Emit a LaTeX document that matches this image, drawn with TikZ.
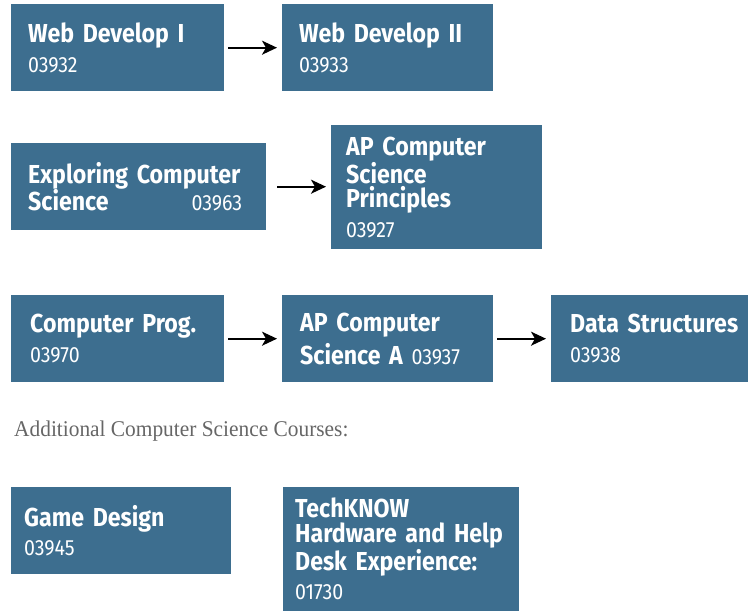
\documentclass[tikz,border=0pt]{standalone}
\usepackage{fontspec}
\setmainfont{Fira Sans}
\newfontfamily\titlefont{Fira Sans}[FakeStretch=0.89]
\newfontfamily\notefont{Liberation Serif}[FakeStretch=0.95]
\usetikzlibrary{arrows.meta, positioning}
\definecolor{csblue}{HTML}{3D6E8F}
\definecolor{notegray}{HTML}{666666}

\tikzset{
  course/.style={rectangle, fill=csblue, text=white, anchor=north west,
    align=left, inner xsep=17pt, inner ysep=0pt, font=\titlefont\bfseries\fontsize{26}{24.5}\selectfont},
  arr/.style={-{Stealth[length=15pt, width=14pt, inset=4pt]}, line width=1.7pt, black}
}
\newcommand{\ccodefont}{\mdseries\fontsize{22}{22}\selectfont}
\newcommand{\ccode}[1]{\\[5pt]{\ccodefont #1}}

\begin{document}
\begin{tikzpicture}[x=1pt, y=-1pt]
  \useasboundingbox (0,0) rectangle (748,612);

  % Row 1: web development
  \node[course, text width=179pt, minimum height=87pt] (web1) at (11,4) {Web Develop I\ccode{03932}};
  \node[course, text width=177pt, minimum height=87pt] (web2) at (282,4) {Web Develop II\ccode{03933}};
  \draw[arr, shorten <=4pt, shorten >=5pt] (web1) -- (web2);

  % Row 2: exploring / principles
  \node[course, text width=221pt, minimum height=87pt] (expl) at (11,143)
    {Exploring Computer\\Science\hfill{\ccodefont 03963}\hspace*{7pt}};
  \node[course, inner xsep=15pt, text width=181pt, minimum height=124pt] (apcsp) at (331,125)
    {AP Computer\\Science\\Principles\ccode{03927}};
  \draw[arr, shorten <=11pt, shorten >=5pt] (expl) -- (apcsp.west |- expl.east);

  % Row 3: programming track
  \node[course, inner xsep=19pt, text width=175pt, minimum height=87pt] (prog) at (11,295) {Computer Prog.\ccode{03970}};
  \node[course, inner xsep=18pt, text width=175pt, minimum height=87pt] (apcsa) at (282,295)
    {AP Computer\\[5pt]Science A {\ccodefont 03937}};
  \node[course, inner xsep=19pt, text width=175pt, minimum height=87pt] (ds) at (551,295) {Data Structures\ccode{03938}};
  \draw[arr, shorten <=4pt, shorten >=5pt] (prog) -- (apcsa);
  \draw[arr, shorten <=4pt, shorten >=5pt] (apcsa) -- (ds.west |- apcsa.east);

  \node[anchor=base west, inner sep=0pt, text=notegray, font=\notefont\fontsize{22.5}{24}\selectfont] (extra) at (14,437)
    {Additional Computer Science Courses:};

  % Additional courses
  \node[course, inner xsep=13pt, text width=194pt, minimum height=87pt] (game) at (11,487) {Game Design\ccode{03945}};
  \node[course, inner xsep=12pt, text width=212pt, minimum height=124pt] (tech) at (283,487)
    {TechKNOW\\Hardware and Help\\Desk Experience:\ccode{01730}};
\end{tikzpicture}
\end{document}
